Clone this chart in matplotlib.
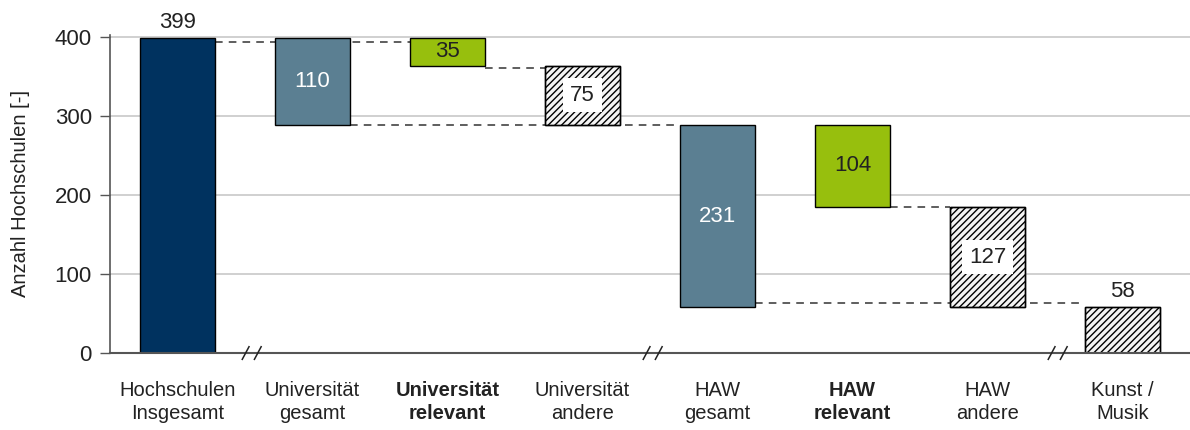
import numpy as np
import matplotlib.pyplot as plt

plt.rcParams['font.family'] = ['Liberation Sans', 'DejaVu Sans']
plt.rcParams['hatch.linewidth'] = 1.0
plt.rcParams['hatch.color'] = '#333333'

# Data
labels = ['Hochschulen\nInsgesamt', 'Universität\ngesamt', 'Universität\nrelevant',
          'Universität\nandere', 'HAW\ngesamt', 'HAW\nrelevant', 'HAW\nandere', 'Kunst /\nMusik']
values = [399, 110, 35, 75, 231, 104, 127, 58]
bottoms = [0, 289, 364, 289, 58, 185, 58, 0]
kinds = ['total', 'group', 'relevant', 'other', 'group', 'relevant', 'other', 'other']
bold_idx = [2, 5]
# connector lines: (level, from bar, to bar)
connectors = [(394, 0, 2), (361, 2, 3), (289, 1, 4), (185, 5, 6), (63, 4, 7)]
breaks = [0.55, 3.52, 6.52]

colors = {'total': '#00325F', 'group': '#5B7F92', 'relevant': '#97BF0D', 'other': '#F4F4F4'}

fig = plt.figure(figsize=(11.9, 4.3), dpi=100)
ax = fig.add_axes([0.0924, 0.179, 0.9076, 0.74])

x = np.arange(len(values))
w = 0.56

# dashed connectors (drawn behind bars)
for lvl, a, b in connectors:
    ax.plot([x[a] + w / 2, x[b] - w / 2], [lvl, lvl], ls=(0, (5, 4)), color='#333333',
            lw=1.1, zorder=1)

for i in range(len(values)):
    k = kinds[i]
    ax.bar(x[i], values[i], w, bottom=bottoms[i], color=colors[k], edgecolor='black',
           linewidth=1.0, zorder=2)
    if k == 'other':
        ax.bar(x[i], values[i], w, bottom=bottoms[i], color='none', edgecolor='black',
               linewidth=1.0, hatch='/////', zorder=2)
    mid = bottoms[i] + values[i] / 2
    if k == 'total' or i == 7:
        ax.text(x[i], bottoms[i] + values[i] + 6, str(values[i]), ha='center', va='bottom',
                fontsize=16, color='#222222')
    elif k == 'group':
        ax.text(x[i], mid, str(values[i]), ha='center', va='center', fontsize=16, color='white',
                zorder=3)
    elif k == 'relevant':
        ax.text(x[i], mid, str(values[i]), ha='center', va='center', fontsize=16,
                color='#222222', zorder=3)
    else:
        ax.text(x[i], mid, str(values[i]), ha='center', va='center', fontsize=16,
                color='#222222', zorder=3,
                bbox=dict(boxstyle='square,pad=0.3', fc='white', ec='none'))

# axis break marks
for bx in breaks:
    for dx in (-0.045, 0.045):
        ax.plot([bx + dx - 0.025, bx + dx + 0.025], [-8, 8], color='#222222', lw=1.1,
                clip_on=False, zorder=4)

ax.set_xlim(-0.5, 7.5)
ax.set_ylim(0, 403)
ax.set_yticks([0, 100, 200, 300, 400])
ax.yaxis.grid(True, color='#C8C8C8', lw=1.2, zorder=0)
ax.set_axisbelow(True)
ax.set_xticks(x)
ax.set_xticklabels(labels, fontsize=14.5, color='#222222', linespacing=1.3)
for i in bold_idx:
    ax.get_xticklabels()[i].set_fontweight('bold')
ax.tick_params(axis='x', length=0, pad=20)
ax.tick_params(axis='y', labelsize=16, labelcolor='#222222', color='#555555', length=7,
               width=1, direction='out', pad=6)
ax.set_ylabel('Anzahl Hochschulen [-]', fontsize=14.5, color='#222222', labelpad=18)

for s in ['top', 'right']:
    ax.spines[s].set_visible(False)
ax.spines['left'].set_color('#555555')
ax.spines['bottom'].set_color('#555555')
ax.spines['left'].set_linewidth(1.2)
ax.spines['bottom'].set_linewidth(1.5)

fig.savefig('out.png', dpi=100)
